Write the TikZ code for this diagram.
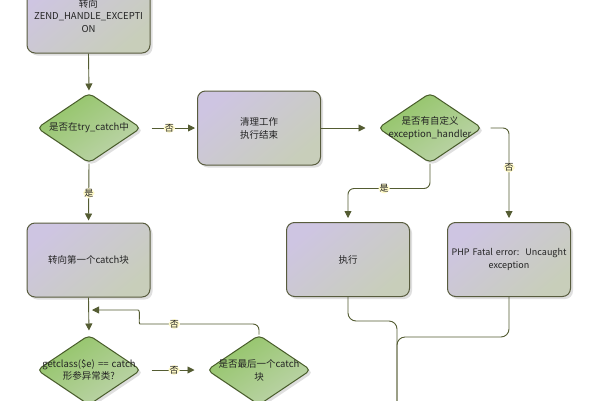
\documentclass[tikz,border=0pt]{standalone}
\usepackage{fontspec}
\setmainfont{Noto Sans CJK SC}
\usetikzlibrary{shapes.geometric,shadows,arrows.meta}
\definecolor{linec}{RGB}{84,92,50}
\definecolor{boxline}{RGB}{88,92,62}
\definecolor{lavtop}{RGB}{206,197,226}
\definecolor{lavbot}{RGB}{200,206,186}
\definecolor{dline}{RGB}{72,92,42}
\definecolor{grtop}{RGB}{146,196,102}
\definecolor{grbot}{RGB}{190,212,172}
\definecolor{labbg}{RGB}{255,250,200}
\definecolor{txt}{RGB}{35,35,35}
\begin{document}
\begin{tikzpicture}[x=1pt,y=-1pt,
  font=\fontsize{9.5}{12.8}\selectfont, text=txt,
  procbox/.style={rectangle, rounded corners=8pt, draw=boxline, line width=1pt,
    top color=lavtop, bottom color=lavbot, shading angle=40,
    minimum width=123pt, minimum height=74pt,
    align=center, text width=121pt, inner sep=0pt,
    drop shadow={shadow xshift=2.5pt, shadow yshift=-2.5pt, opacity=0.25}},
  decision/.style={diamond, draw=dline, line width=1pt, rounded corners=5pt,
    minimum width=104pt, minimum height=70pt, inner sep=0pt,
    top color=grtop, bottom color=grbot, shading angle=35,
    drop shadow={shadow xshift=2.5pt, shadow yshift=-2.5pt, opacity=0.25}},
  dtext/.style={align=center, text width=106pt, inner sep=0pt},
  conn/.style={draw=linec, line width=0.9pt, rounded corners=6pt},
  arr/.style={conn, -{Triangle[length=7pt,width=7pt]}},
  lab/.style={fill=labbg, inner sep=1pt, font=\fontsize{9}{10}\selectfont}]
\useasboundingbox[fill=white] (0,0) rectangle (600,400);

\node[procbox] (b0) at (88.5,16) {转向\\ZEND\_HANDLE\_EXCEPTI\\ON};
\node[decision] (d1) at (89,128) {};
\node[dtext] (d1t) at (d1) {是否在try\_catch中};
\node[procbox] (b1) at (259,128) {清理工作\\执行结束};
\node[decision] (d2) at (430,128) {};
\node[dtext] (d2t) at (d2) {是否有自定义\\exception\_handler};
\node[procbox] (b2) at (88.5,260) {转向第一个catch块};
\node[procbox] (b3) at (348,259.5) {执行};
\node[procbox, font=\fontsize{9}{12.8}\selectfont] (b4) at (509,259.5) {\mbox{PHP Fatal error:~~Uncaught}\\exception};
\node[decision] (d3) at (89,370) {};
\node[dtext] (d3t) at (d3) {getclass(\$e) == catch\\形参异常类?};
\node[decision] (d4) at (259,370) {};
\node[dtext] (d4t) at (d4) {是否最后一个catch\\块};
\coordinate (m) at (89,310);
\coordinate (e) at (397,410);

\draw[arr, shorten >=2pt] (b0.south) -- (d1.north);
\draw[arr, shorten <=10pt, shorten >=2pt] (d1.east) -- node[lab]{否} (b1.west);
\draw[arr, shorten >=12pt] (b1.east) -- (d2.west);
\draw[arr, shorten <=8pt, shorten >=4pt] (d2.east) -| node[lab, pos=0.71]{否} (b4.north);
\draw[arr, shorten >=4pt] (d2.south) -- ++(0,25) -| node[lab, pos=0.28]{是} (b3.north);
\draw[arr, shorten >=2pt] (d1.south) -- node[lab]{是} (b2.north);
\draw[arr, shorten >=4pt] (b2.south) -- (d3.north);
\draw[arr, shorten <=10pt, shorten >=12pt] (d3.east) -- node[lab]{否} (d4.west);
\draw[conn, -{Triangle[length=7pt,width=7pt]}] (d4.north) -- (259,324) -- node[lab, pos=0.75]{否} (146,324)
  .. controls (138,324) and (141,310) .. (132,310) -- ([xshift=3pt]m);
\draw[conn, rounded corners=8pt] (b3.south) -- ++(0,24) -| (e);
\draw[conn, rounded corners=8pt] (b4.south) -- ++(0,40) -| (e);
\end{tikzpicture}
\end{document}
